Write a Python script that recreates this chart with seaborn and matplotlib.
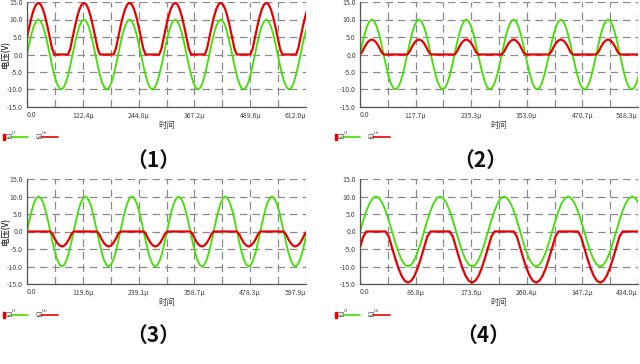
import numpy as np
import pandas as pd
import seaborn as sns
import matplotlib.pyplot as plt
from matplotlib.lines import Line2D
from matplotlib.patches import Rectangle

step_us = 5.0
ui_cycle = [0.0, 3.1, 5.9, 8.1, 9.5, 10.0, 9.5, 8.1, 5.9, 3.1,
            0.0, -3.1, -5.9, -8.1, -9.5, -10.0, -9.5, -8.1, -5.9, -3.1]
uo1_cycle = [4.8, 7.9, 10.7, 12.9, 14.3, 14.8, 14.3, 12.9, 10.7, 7.9,
             4.8, 1.7, 0.0, 0.0, 0.0, 0.0, 0.0, 0.0, 0.0, 1.7]
uo2_cycle = [0.0, 0.8, 2.2, 3.3, 4.0, 4.3, 4.0, 3.3, 2.2, 0.8,
             0.0, 0.0, 0.0, 0.0, 0.0, 0.0, 0.0, 0.0, 0.0, 0.0]
uo3_cycle = [0.0, 0.0, 0.0, 0.0, 0.0, 0.0, 0.0, 0.0, 0.0, 0.0,
             0.0, -0.8, -2.2, -3.3, -4.0, -4.3, -4.0, -3.3, -2.2, -0.8]
uo4_cycle = [-4.6, -1.5, 0.0, 0.0, 0.0, 0.0, 0.0, 0.0, 0.0, -1.5,
             -4.6, -7.7, -10.5, -12.7, -14.1, -14.6, -14.1, -12.7, -10.5, -7.7]

x_ends = [612.0, 588.3, 597.9, 434.0]
x_ticklabels = [
    ["0.0", "122.4µ", "244.8µ", "367.2µ", "489.6µ", "612.0µ"],
    ["0.0", "117.7µ", "235.3µ", "353.0µ", "470.7µ", "588.3µ"],
    ["0.0", "119.6µ", "239.1µ", "358.7µ", "478.3µ", "597.9µ"],
    ["0.0", "86.8µ", "173.6µ", "260.4µ", "347.2µ", "434.0µ"],
]
y_ticks = [-15, -10, -5, 0, 5, 10, 15]
y_ticklabels = ["-15.0", "-10.0", "-5.0", "0.0", "5.0", "10.0", "15.0"]
captions = ["（1）", "（2）", "（3）", "（4）"]
uo_cycles = [uo1_cycle, uo2_cycle, uo3_cycle, uo4_cycle]

sns.set_style("white")
plt.rcParams["font.family"] = ["Noto Sans CJK SC", "DejaVu Sans"]

GREEN = "#3ee000"
RED = "#e80000"
GRID = "#8a8a8a"

W, H = 640, 364
fig = plt.figure(figsize=(6.4, 3.64), dpi=100)

# axes boxes in pixels: left, top, right, bottom
boxes = [(27, 2, 306, 107), (360, 2, 638, 107),
         (27, 179, 306, 284), (360, 179, 638, 284)]
legend_pos = [(3, 137), (335, 137), (3, 315), (335, 315)]
caption_pos = [(153, 160), (480, 160), (153, 335), (483, 335)]

for i in range(4):
    l, t, r, b = boxes[i]
    ax = fig.add_axes([l / W, 1 - b / H, (r - l) / W, (b - t) / H])
    xe = x_ends[i]
    n = int(np.ceil(xe / step_us)) + 1
    time = step_us * np.arange(n)
    reps = n // len(ui_cycle) + 1
    df = pd.DataFrame({
        "t": time,
        "Ui": np.tile(ui_cycle, reps)[:n],
        "Uo": np.tile(uo_cycles[i], reps)[:n],
    })
    sns.lineplot(data=df, x="t", y="Ui", ax=ax, color=GREEN, lw=1.3)
    sns.lineplot(data=df, x="t", y="Uo", ax=ax, color=RED, lw=1.6)

    ax.set_xlim(0, xe)
    ax.set_ylim(-15, 15)
    major = np.linspace(0, xe, 6)
    ax.set_xticks(major)
    ax.set_xticks(np.linspace(0, xe, 11), minor=True)
    ax.set_xticklabels(x_ticklabels[i], fontsize=5, color="#444444")
    labs = ax.get_xticklabels()
    labs[0].set_ha("left")
    labs[-1].set_ha("right")
    ax.set_yticks(y_ticks)
    ax.set_yticklabels(y_ticklabels, fontsize=5, color="#444444")
    ax.tick_params(which="both", length=0, pad=3)
    ax.grid(True, which="both", color=GRID, ls=(0, (6, 4)), lw=0.9)
    ax.set_axisbelow(True)
    for s in ["top", "right"]:
        ax.spines[s].set_visible(False)
    for s in ["left", "bottom"]:
        ax.spines[s].set_color("#555555")
        ax.spines[s].set_linewidth(0.9)
    ax.set_xlabel("")
    ax.set_ylabel("")
    ax.text(0.5, -0.18, "时间", transform=ax.transAxes, ha="center", va="center",
            fontsize=6, color="#444444")
    ax.text(-(l - 6) / (r - l), 0.5, "电压(V)", transform=ax.transAxes,
            rotation=90, ha="center", va="center", fontsize=6, color="#444444")

    # legend strip
    lx, ly = legend_pos[i]
    yf = 1 - ly / H
    fig.add_artist(Rectangle((lx / W, yf - 3 / H), 1.5 / W, 6 / H,
                             transform=fig.transFigure, color=RED))
    fig.text((lx + 2) / W, yf, "☑", fontsize=5, va="center",
             family=["DejaVu Sans"], color="#333333")
    fig.text((lx + 9) / W, yf + 4 / H, "Ui", fontsize=3, va="center", color="#333333")
    fig.add_artist(Line2D([(lx + 8) / W, (lx + 25) / W], [yf, yf],
                          transform=fig.transFigure, color=GREEN, lw=1.2))
    fig.text((lx + 32) / W, yf, "☑", fontsize=5, va="center",
             family=["DejaVu Sans"], color="#333333")
    fig.text((lx + 39) / W, yf + 4 / H, "Uo", fontsize=3, va="center", color="#333333")
    fig.add_artist(Line2D([(lx + 38) / W, (lx + 55) / W], [yf, yf],
                          transform=fig.transFigure, color=RED, lw=1.2))

    cx, cy = caption_pos[i]
    fig.text(cx / W, 1 - cy / H, captions[i], ha="center", va="center",
             fontsize=15, weight="bold", color="#111111")

fig.savefig("out.png", dpi=100)
